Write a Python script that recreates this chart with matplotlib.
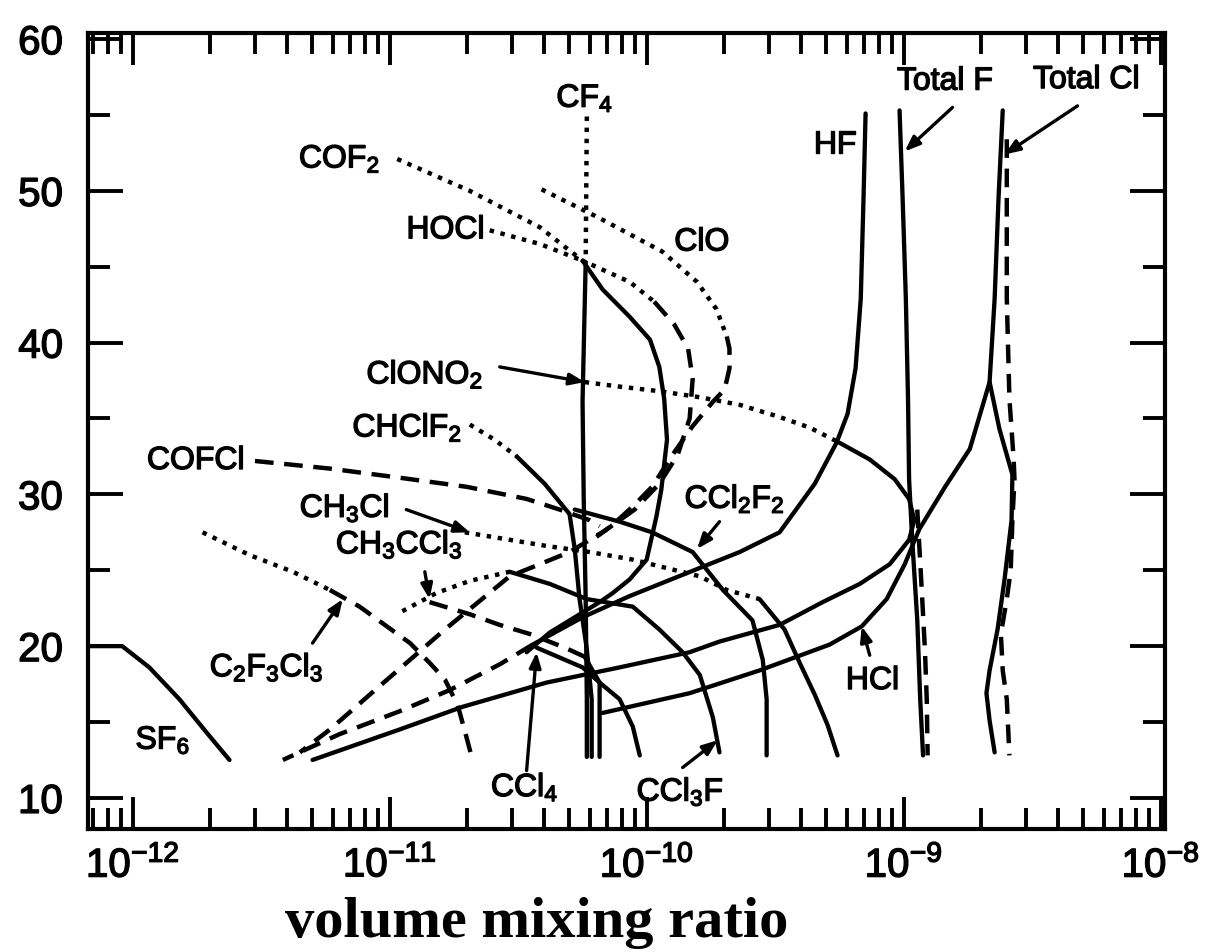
import matplotlib
matplotlib.use('Agg')
import matplotlib.pyplot as plt
import matplotlib.patheffects as pe
from matplotlib.ticker import FixedLocator, NullFormatter

plt.rcParams['font.family'] = ['Liberation Sans', 'DejaVu Sans']
plt.rcParams['mathtext.fontset'] = 'custom'
plt.rcParams['mathtext.rm'] = 'Liberation Sans'
plt.rcParams['mathtext.it'] = 'Liberation Sans:italic'
plt.rcParams['mathtext.bf'] = 'Liberation Sans:bold'

# ---- profiles: altitude (km) and volume mixing ratio ----
sf6_km = [20.0, 20.0, 18.6, 16.5, 14.3, 12.5]
sf6_vmr = [6.5e-13, 9.1e-13, 1.16e-12, 1.52e-12, 1.94e-12, 2.38e-12]

c2f3cl3_top_km = [27.5, 26.0, 24.9, 23.7]
c2f3cl3_top_vmr = [1.87e-12, 2.85e-12, 4.20e-12, 5.85e-12]
c2f3cl3_km = [23.7, 22.6, 21.4, 20.2, 18.9, 17.8, 16.1, 14.0, 12.5]
c2f3cl3_vmr = [5.85e-12, 7.64e-12, 9.57e-12, 1.20e-11, 1.43e-11, 1.64e-11, 1.84e-11, 1.99e-11, 2.10e-11]

cofcl_km = [32.2, 31.7, 31.1, 30.5, 29.7, 29.0, 28.3, 27.9]
cofcl_vmr = [2.99e-12, 5.85e-12, 1.09e-11, 1.99e-11, 3.41e-11, 4.58e-11, 6.00e-11, 6.56e-11]

cof2_top_km = [52.1, 50.0, 47.6, 45.4, 44.0, 42.7]
cof2_top_vmr = [1.07e-11, 2.05e-11, 3.84e-11, 5.63e-11, 8.59e-11, 1.07e-10]
cof2_km = [42.7, 41.2, 39.6, 37.6, 35.0, 32.6, 30.7, 29.0, 27.6, 26.2, 25.4, 24.6,
           22.7, 21.1, 19.1, 16.8, 14.5, 13.0]
cof2_vmr = [1.07e-10, 1.28e-10, 1.45e-10, 1.51e-10, 1.47e-10, 1.32e-10, 1.12e-10, 8.98e-11,
            6.87e-11, 5.01e-11, 3.84e-11, 2.93e-11, 2.14e-11, 1.64e-11, 1.20e-11, 8.36e-12,
            5.85e-12, 4.47e-12]

clo_top_km = [50.1, 48.2, 46.0, 44.0, 42.2, 40.4]
clo_top_vmr = [3.90e-11, 6.56e-11, 1.15e-10, 1.57e-10, 1.87e-10, 2.05e-10]
clo_km = [40.4, 39.6, 38.3, 36.9, 36.1, 34.5, 32.6, 30.5, 29.2, 28.0, 27.2]
clo_vmr = [2.05e-10, 2.10e-10, 2.10e-10, 2.01e-10, 1.81e-10, 1.51e-10, 1.26e-10, 1.05e-10,
           8.83e-11, 7.38e-11, 6.38e-11]

hocl_top_km = [47.4, 46.5, 45.4]
hocl_top_vmr = [2.45e-11, 3.84e-11, 5.63e-11]
hocl_km = [45.4, 43.5, 41.7, 40.2, 38.4, 36.3, 33.6, 30.3, 28.5, 25.7, 24.4, 23.5, 22.9,
           21.9, 20.9, 19.6]
hocl_vmr = [5.63e-11, 6.74e-11, 8.59e-11, 1.03e-10, 1.12e-10, 1.17e-10, 1.20e-10, 1.14e-10,
            1.09e-10, 1.00e-10, 8.59e-11, 7.38e-11, 6.56e-11, 5.25e-11, 4.20e-11, 3.41e-11]

cf4_top_km = [54.9, 45.3]
cf4_top_vmr = [5.85e-11, 5.79e-11]
cf4_km = [45.3, 39.6, 36.1, 29.7, 23.1, 16.5, 12.7]
cf4_vmr = [5.79e-11, 5.69e-11, 5.63e-11, 5.69e-11, 5.79e-11, 5.85e-11, 5.85e-11]

chclf2_top_km = [34.6, 33.6, 32.5]
chclf2_top_vmr = [2.05e-11, 2.56e-11, 3.12e-11]
chclf2_km = [32.5, 30.7, 28.7, 26.4, 23.1, 19.8, 16.5, 12.7]
chclf2_vmr = [3.12e-11, 4.01e-11, 5.01e-11, 5.25e-11, 5.48e-11, 5.85e-11, 6.11e-11, 6.11e-11]

clono2_top_km = [37.4, 37.1, 36.8, 36.4, 35.9, 35.1, 34.4, 33.4]
clono2_top_vmr = [5.74e-11, 7.85e-11, 1.12e-10, 1.61e-10, 2.30e-10, 3.29e-10, 4.31e-10, 5.63e-10]
clono2_km = [33.4, 32.3, 31.0, 29.7, 28.3, 27.0, 25.4, 24.1, 22.9, 21.4, 20.3, 19.6, 18.6,
             17.6, 16.0, 14.5, 12.5]
clono2_vmr = [5.63e-10, 7.38e-10, 9.23e-10, 1.05e-9, 1.10e-9, 1.05e-9, 8.83e-10, 6.75e-10,
              4.84e-10, 3.29e-10, 1.92e-10, 1.47e-10, 7.85e-11, 4.08e-11, 1.92e-11, 1.09e-11,
              5.01e-12]

hcl_km = [15.6, 16.9, 18.4, 20.1, 21.3, 23.1, 25.4, 27.7, 30.5, 33.0, 37.4, 42.9, 49.5, 55.3]
hcl_vmr = [6.74e-11, 1.47e-10, 2.75e-10, 5.15e-10, 6.87e-10, 8.59e-10, 1.01e-9, 1.15e-9,
           1.45e-9, 1.81e-9, 2.16e-9, 2.26e-9, 2.34e-9, 2.43e-9]

totcl_km = [37.4, 34.3, 31.3, 28.3, 24.4, 21.1, 18.4, 16.9, 15.1, 13.0]
totcl_vmr = [2.16e-9, 2.36e-9, 2.65e-9, 2.63e-9, 2.47e-9, 2.32e-9, 2.16e-9, 2.10e-9, 2.16e-9, 2.26e-9]
totcl_model_km = [53.4, 42.9, 36.3, 32.3, 31.0, 28.3, 25.0, 23.1, 20.8, 18.4, 16.5, 12.8]
totcl_model_vmr = [2.52e-9, 2.52e-9, 2.58e-9, 2.68e-9, 2.70e-9, 2.65e-9, 2.61e-9, 2.52e-9,
                   2.39e-9, 2.43e-9, 2.52e-9, 2.58e-9]

totf_km = [55.3, 49.5, 42.9, 36.3, 31.0, 27.0, 21.7, 16.5, 12.8]
totf_vmr = [9.64e-10, 9.91e-10, 1.02e-9, 1.04e-9, 1.05e-9, 1.08e-9, 1.13e-9, 1.16e-9, 1.19e-9]
totf_model_km = [29.0, 24.4, 19.8, 16.5, 12.8]
totf_model_vmr = [1.13e-9, 1.17e-9, 1.21e-9, 1.23e-9, 1.24e-9]

hf_km = [55.1, 49.5, 42.9, 38.3, 35.3, 33.4, 30.7, 27.5, 26.2, 24.7, 23.3, 21.9, 20.1]
hf_vmr = [7.11e-10, 6.98e-10, 6.81e-10, 6.50e-10, 6.05e-10, 5.48e-10, 4.51e-10, 3.29e-10,
          2.30e-10, 1.38e-10, 8.59e-11, 5.63e-11, 3.60e-11]
hf_low_km = [20.1, 18.8, 17.1, 15.7, 14.2, 12.5]
hf_low_vmr = [3.60e-11, 2.68e-11, 1.71e-11, 1.09e-11, 6.38e-12, 3.84e-12]

ch3cl_top_km = [27.5, 26.6, 26.2, 25.7, 24.6, 23.7, 23.1]
ch3cl_top_vmr = [1.96e-11, 4.08e-11, 6.00e-11, 8.83e-11, 1.61e-10, 2.05e-10, 2.75e-10]
ch3cl_km = [23.1, 21.1, 18.9, 16.8, 14.8, 12.8]
ch3cl_vmr = [2.75e-10, 3.44e-10, 3.94e-10, 4.51e-10, 5.06e-10, 5.53e-10]

ccl2f2_km = [29.0, 28.2, 27.5, 26.2, 23.7, 21.7, 19.1, 16.5, 12.8]
ccl2f2_vmr = [5.25e-11, 7.85e-11, 1.05e-10, 1.51e-10, 1.98e-10, 2.58e-10, 2.83e-10, 2.93e-10, 2.93e-10]

ccl3f_top_km = [22.3, 23.5, 24.3, 24.9]
ccl3f_top_vmr = [1.12e-11, 1.52e-11, 2.05e-11, 2.93e-11]
ccl3f_km = [24.9, 24.1, 23.1, 22.6, 21.1, 19.6, 18.1, 15.3, 13.0]
ccl3f_vmr = [2.93e-11, 4.20e-11, 5.85e-11, 8.83e-11, 1.12e-10, 1.38e-10, 1.61e-10, 1.81e-10, 1.92e-10]

ch3ccl3_top_km = [22.9, 22.1, 21.4, 20.8, 19.9, 19.3]
ch3ccl3_top_vmr = [1.43e-11, 2.05e-11, 2.68e-11, 3.51e-11, 4.80e-11, 5.74e-11]
ch3ccl3_km = [19.3, 17.6, 12.7]
ch3ccl3_vmr = [5.74e-11, 6.56e-11, 6.56e-11]

ccl4_km = [19.9, 18.6, 17.6, 16.5, 14.7, 12.8]
ccl4_vmr = [3.73e-11, 5.63e-11, 6.56e-11, 7.85e-11, 8.83e-11, 9.40e-11]

# ---- species labels: text, vmr, km ----
label_text = ['CF$_4$', 'COF$_2$', 'HOCl', 'ClO', 'ClONO$_2$', 'CHClF$_2$', 'COFCl',
              'CH$_3$Cl', 'CH$_3$CCl$_3$', 'CCl$_2$F$_2$', 'C$_2$F$_3$Cl$_3$', 'SF$_6$',
              'CCl$_4$', 'CCl$_3$F', 'HCl', 'HF', 'Total F', 'Total Cl']
label_vmr = [5.74e-11, 6.38e-12, 1.65e-11, 1.64e-10, 1.37e-11, 1.17e-11, 1.76e-12,
             6.68e-12, 1.09e-11, 2.20e-10, 3.32e-12, 1.31e-12,
             3.35e-11, 1.35e-10, 7.57e-10, 5.39e-10, 1.45e-9, 5.15e-9]
label_km = [56.1, 52.1, 47.4, 46.6, 37.9, 34.4, 32.2,
            29.1, 26.7, 29.7, 18.6, 13.8,
            10.7, 10.4, 17.7, 53.0, 57.2, 57.3]

# ---- arrows: tail (vmr, km) -> head (vmr, km) ----
arrow_tail_vmr = [1.55e-9, 4.75e-9, 2.68e-11, 1.16e-11, 1.37e-11, 1.92e-10, 5.01e-12, 3.41e-11, 1.38e-10, 7.38e-10]
arrow_tail_km = [55.5, 55.6, 38.4, 29.0, 24.9, 28.2, 20.2, 11.8, 12.0, 19.4]
arrow_head_vmr = [1.01e-9, 2.47e-9, 5.74e-11, 2.05e-11, 1.43e-11, 1.57e-10, 6.57e-12, 3.73e-11, 1.89e-10, 6.87e-10]
arrow_head_km = [52.6, 52.4, 37.4, 27.5, 23.1, 26.4, 23.1, 19.6, 13.8, 21.3]

solid = dict(color='black', lw=3.1, ls='-', solid_capstyle='round')
dotted = dict(color='black', lw=3.2, ls=(0, (1.0, 1.5)), dash_capstyle='butt')
dashed = dict(color='black', lw=3.2, ls=(0, (4.2, 2.4)))

curves = [
    (sf6_vmr, sf6_km, solid),
    (c2f3cl3_top_vmr, c2f3cl3_top_km, dotted), (c2f3cl3_vmr, c2f3cl3_km, dashed),
    (cofcl_vmr, cofcl_km, dashed),
    (cof2_top_vmr, cof2_top_km, dotted), (cof2_vmr, cof2_km, dashed),
    (clo_top_vmr, clo_top_km, dotted), (clo_vmr, clo_km, dashed),
    (hocl_top_vmr, hocl_top_km, dotted), (hocl_vmr, hocl_km, solid),
    (cf4_top_vmr, cf4_top_km, dotted), (cf4_vmr, cf4_km, solid),
    (chclf2_top_vmr, chclf2_top_km, dotted), (chclf2_vmr, chclf2_km, solid),
    (clono2_top_vmr, clono2_top_km, dotted), (clono2_vmr, clono2_km, solid),
    (hcl_vmr, hcl_km, solid),
    (totcl_vmr, totcl_km, solid), (totcl_model_vmr, totcl_model_km, dashed),
    (totf_vmr, totf_km, solid), (totf_model_vmr, totf_model_km, dashed),
    (hf_vmr, hf_km, solid), (hf_low_vmr, hf_low_km, dashed),
    (ch3cl_top_vmr, ch3cl_top_km, dotted), (ch3cl_vmr, ch3cl_km, solid),
    (ccl2f2_vmr, ccl2f2_km, solid),
    (ccl3f_top_vmr, ccl3f_top_km, dotted), (ccl3f_vmr, ccl3f_km, solid),
    (ch3ccl3_top_vmr, ch3ccl3_top_km, dashed), (ch3ccl3_vmr, ch3ccl3_km, solid),
    (ccl4_vmr, ccl4_km, solid),
]

bold_ink = [pe.withStroke(linewidth=1.0, foreground='black')]

fig = plt.figure(figsize=(12.09, 9.52), dpi=100)
ax = fig.add_axes([0.0728, 0.1292, 0.8908, 0.8361])

for x, y, st in curves:
    ax.plot(x, y, **st)

for s, x, y in zip(label_text, label_vmr, label_km):
    ax.text(x, y, s, ha='center', va='center', fontsize=23, path_effects=bold_ink)

for tx, ty, hx, hy in zip(arrow_tail_vmr, arrow_tail_km, arrow_head_vmr, arrow_head_km):
    ax.annotate('', xy=(hx, hy), xytext=(tx, ty),
                arrowprops=dict(arrowstyle='-|>,head_length=0.9,head_width=0.35',
                                color='black', lw=2.4, shrinkA=0, shrinkB=0))

ax.set_xscale('log')
ax.set_xlim(6.7e-13, 1.04e-8)
ax.set_ylim(7.95, 60.4)

decades = [1e-12, 1e-11, 1e-10, 1e-9, 1e-8]
minors = [7e-13, 8e-13, 9e-13] + [m * d for d in decades[:-1] for m in range(2, 10)]
ax.xaxis.set_major_locator(FixedLocator(decades))
ax.xaxis.set_minor_locator(FixedLocator(minors))
ax.xaxis.set_minor_formatter(NullFormatter())
ax.set_xticklabels([r'$\mathregular{10^{-12}}$', r'$\mathregular{10^{-11}}$',
                    r'$\mathregular{10^{-10}}$', r'$\mathregular{10^{-9}}$',
                    r'$\mathregular{10^{-8}}$'])
ax.yaxis.set_major_locator(FixedLocator([10, 20, 30, 40, 50, 60]))
ax.yaxis.set_minor_locator(FixedLocator([15, 25, 35, 45, 55]))

ax.tick_params(axis='both', which='both', direction='in', top=True, right=True,
               width=2.8, labelsize=29, colors='black')
ax.tick_params(axis='x', which='major', length=23, pad=12)
ax.tick_params(axis='x', which='minor', length=15)
ax.tick_params(axis='y', which='major', length=25, pad=18)
ax.tick_params(axis='y', which='minor', length=16)
for lab in ax.get_xticklabels() + ax.get_yticklabels():
    lab.set_path_effects(bold_ink)
for sp in ax.spines.values():
    sp.set_linewidth(3.0)

ax.set_xlabel('volume mixing ratio', fontsize=42, fontweight='bold',
              family='Liberation Serif')
ax.xaxis.set_label_coords(0.417, -0.085)

fig.savefig('out.png', dpi=100)
